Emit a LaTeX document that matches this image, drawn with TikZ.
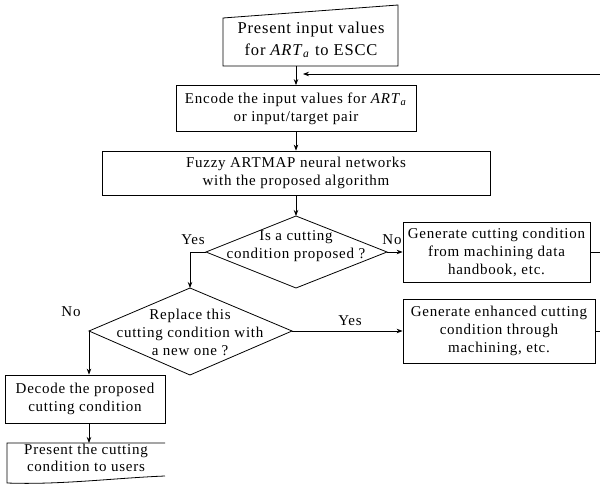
\documentclass[tikz,border=0pt]{standalone}
\usepackage{fontspec}
\setmainfont{Liberation Serif}[LetterSpace=5]
\usetikzlibrary{arrows.meta}
\begin{document}
\begin{tikzpicture}[x=1pt,y=-1pt,line width=0.8pt,
  >={Stealth[length=6pt,width=4.5pt]},
  txt/.style={font=\fontsize{15}{18}\selectfont,align=center,inner sep=0pt},
  box/.style={txt,draw,rectangle},
  lbl/.style={font=\fontsize{15}{18}\selectfont,inner sep=0pt}]
\useasboundingbox (0,0) rectangle (600,484);
% top manual-input box
\coordinate (tl) at (223,18);
\coordinate (tr) at (398,5);
\coordinate (br) at (398,66);
\coordinate (bl) at (223,66);
\draw (tl) -- (tr) -- (br) -- (bl) -- cycle;
\node[txt,font=\fontsize{16.5}{22}\selectfont] (present) at (311,40) {Present input values\\for \textit{ART}\textsubscript{\textit{a}} to ESCC};
\coordinate (topout) at (296,66);
% encode
\node[box,minimum width=240pt,minimum height=46pt] (encode) at (296,108.5)
  {Encode the input values for \textit{ART}\textsubscript{\textit{a}}\\or input/target pair};
\draw[->] (topout) -- (encode.north);
% feedback
\coordinate (fbR) at (600,74);
\coordinate (fbL) at (303,74);
\draw[->] (fbR) -- (fbL);
% fuzzy
\node[box,minimum width=388pt,minimum height=44pt] (fuzzy) at (296,173)
  {Fuzzy ARTMAP neural networks\\with the proposed algorithm};
\draw[->] (encode.south) -- (fuzzy.north);
% diamond 1
\coordinate (d1t) at (296,216);
\coordinate (d1r) at (387,252);
\coordinate (d1b) at (296,288);
\coordinate (d1l) at (206,252);
\draw (d1t) -- (d1r) -- (d1b) -- (d1l) -- cycle;
\node[txt] (d1) at (296,246) {Is a cutting\\condition proposed ?};
\draw[->] (fuzzy.south) -- (d1t);
\node[lbl] (yes1) at (193,240) {Yes};
\node[lbl] (no1) at (392,240) {No};
% generate 1
\node[box,minimum width=187pt,minimum height=60pt] (gen1) at (496.5,252)
  {Generate cutting condition\\from machining data\\handbook, etc.};
\draw[->] (d1r) -- (gen1.west);
\coordinate (out1) at (600,252);
\draw (gen1.east) -- (out1);
% diamond 2
\coordinate (d2t) at (190,288);
\coordinate (d2r) at (292,331);
\coordinate (d2b) at (190,375);
\coordinate (d2l) at (89,331);
\draw (d2t) -- (d2r) -- (d2b) -- (d2l) -- cycle;
\node[txt] (d2) at (190,332) {Replace this\\cutting condition with\\a new one ?};
\coordinate (yc) at (190,252);
\draw[->] (d1l) -- (yc) -- (d2t);
\node[lbl] (yes2) at (350,321) {Yes};
\node[lbl] (no2) at (71,312) {No};
% generate 2
\node[box,minimum width=192pt,minimum height=64pt] (gen2) at (499,331)
  {Generate enhanced cutting\\condition through\\machining, etc.};
\draw[->] (d2r) -- (gen2.west);
\coordinate (out2) at (600,331);
\draw (gen2.east) -- (out2);
% decode
\node[box,minimum width=160pt,minimum height=48pt] (decode) at (85,399)
  {Decode the proposed\\cutting condition};
\draw[->] (d2l) -- (d2l |- decode.north);
% bottom document box
\coordinate (pt) at (89,443);
\draw (165,443) -- (7,443) -- (7,483) .. controls (60,485) and (115,478) .. (165,476);
\node[txt,font=\fontsize{15}{17}\selectfont] (pres) at (86,458) {Present the cutting\\condition to users};
\draw[->] (decode.south -| d2l) -- (pt);
\end{tikzpicture}
\end{document}
